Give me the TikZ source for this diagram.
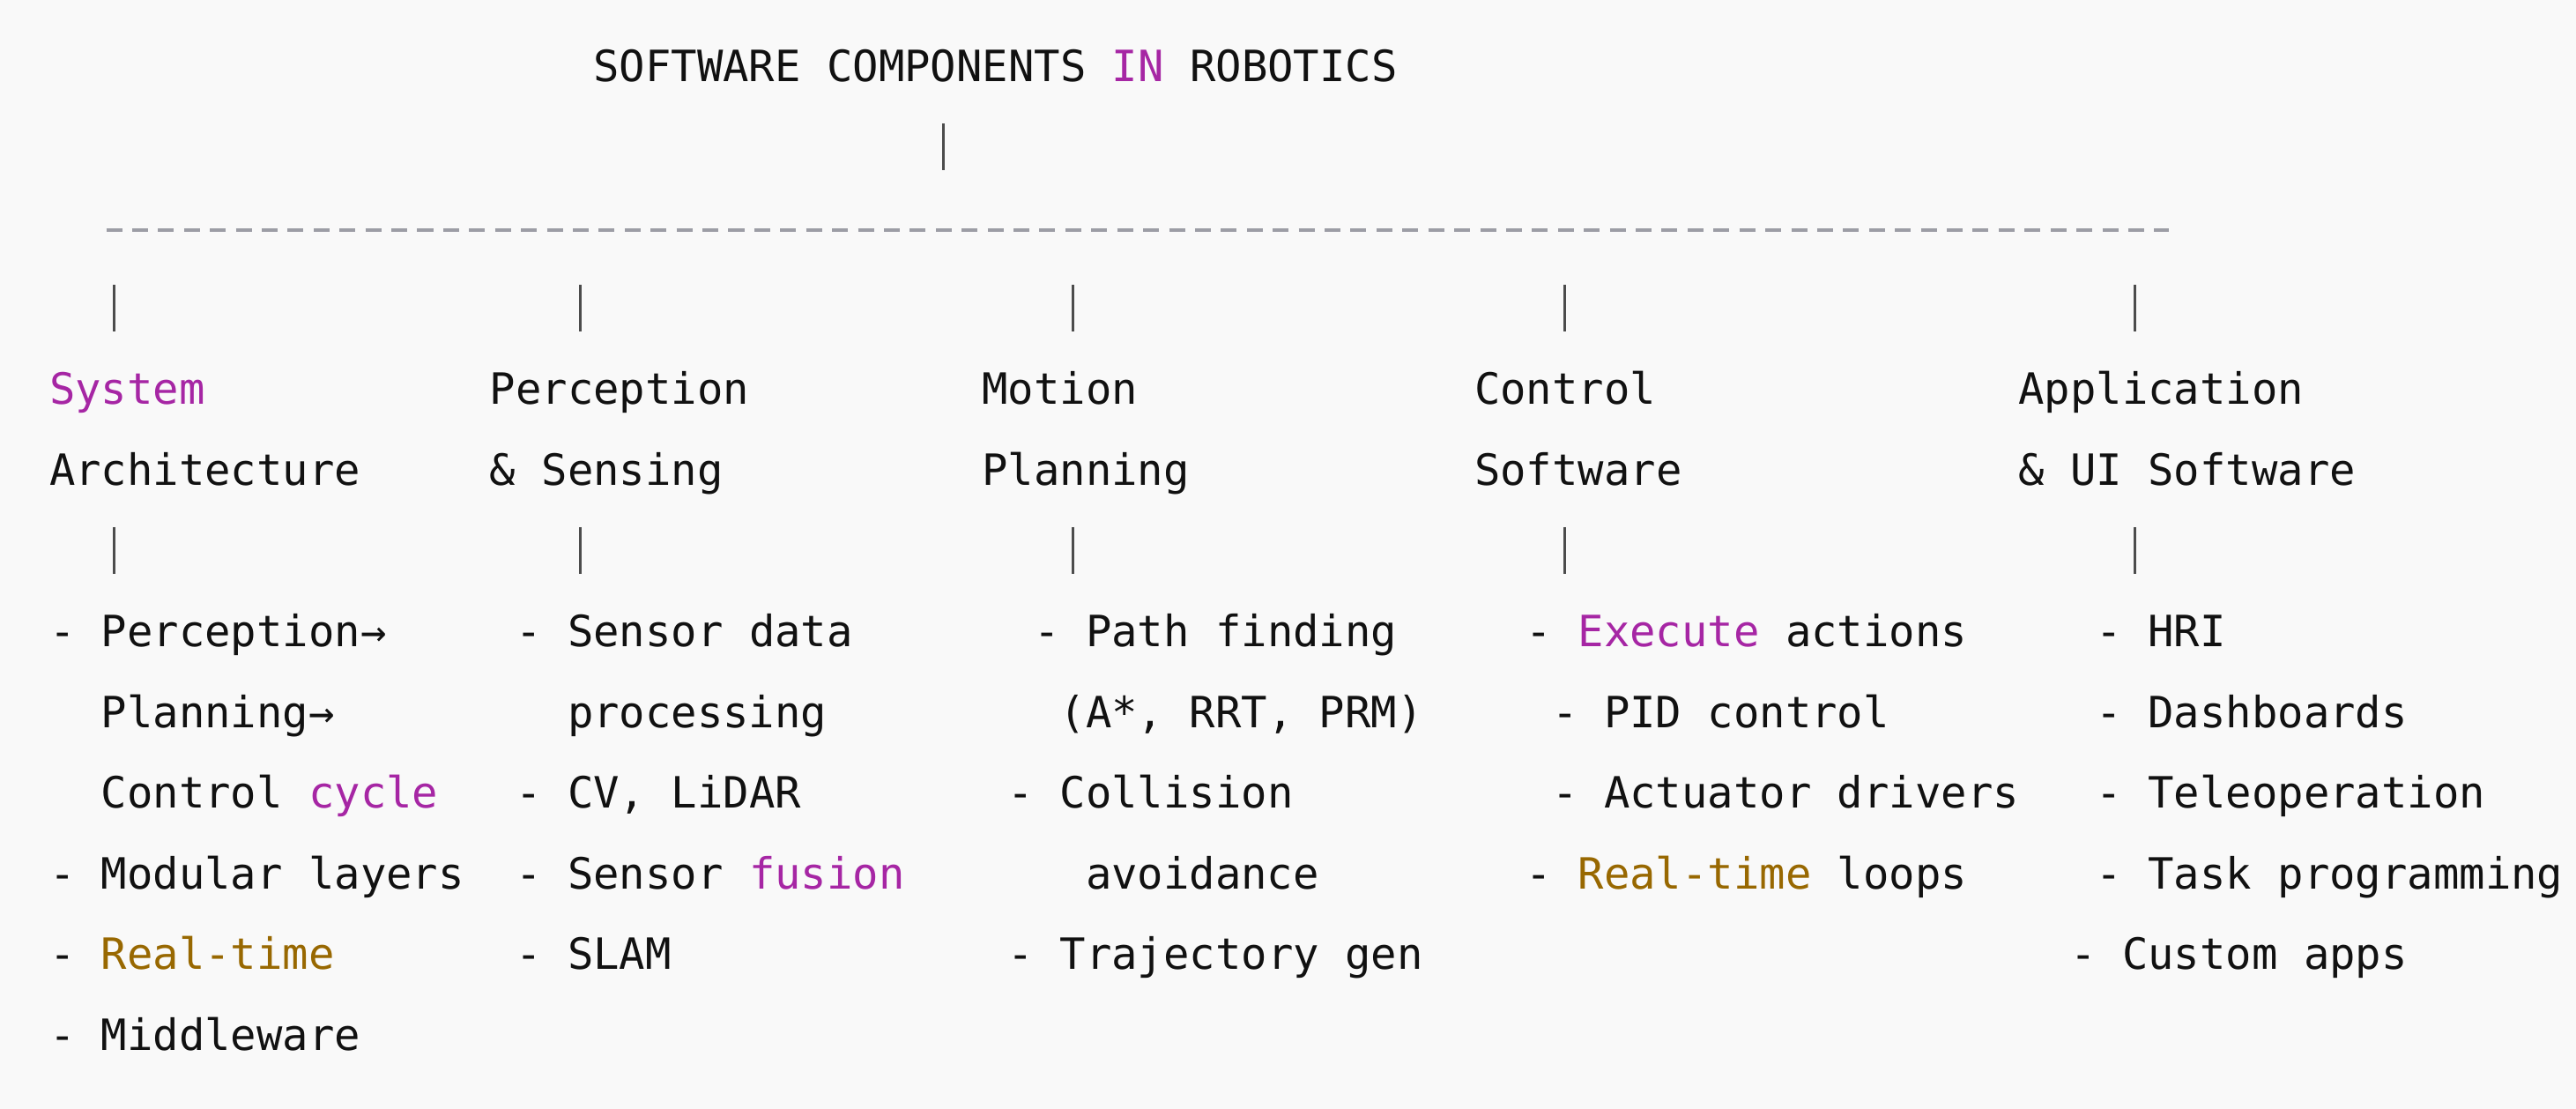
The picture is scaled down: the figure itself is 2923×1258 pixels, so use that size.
\documentclass[tikz,border=0pt]{standalone}
\usepackage{fontspec}
\setmonofont{DejaVu Sans Mono}
\usepackage{tikz}
\definecolor{paper}{HTML}{F9F9F9}
\definecolor{ink}{HTML}{111111}
\definecolor{kwpurple}{HTML}{A626A4}
\definecolor{litbrown}{HTML}{986801}
\definecolor{cmtgray}{HTML}{9C9DA5}
\newcommand{\kwd}[1]{\textcolor{kwpurple}{#1}}
\newcommand{\lit}[1]{\textcolor{litbrown}{#1}}
% character grid of the listing (one unit = one pixel)
\newcommand{\cx}[1]{56+29.4*(#1)}
\newcommand{\ry}[1]{93+91.5*(#1)}

\begin{document}
\begin{tikzpicture}[x=0.01cm,y=-0.01cm,
        font=\ttfamily\fontsize{13.9pt}{16pt}\selectfont\frenchspacing,
        txt/.style={anchor=base west,inner sep=0pt,outer sep=0pt,text=ink},
        bar/.style={draw=ink!75,line width=0.03cm},
        sepline/.style={draw=cmtgray,line width=0.04cm,dash pattern=on 0.18cm off 0.114cm}]
        \fill[paper] (0,0) rectangle (2923,1258);

        \node[txt] (title) at ({\cx{21}},{\ry{0}}) {SOFTWARE COMPONENTS \kwd{IN} ROBOTICS};
        \coordinate (topbar-t) at ({\cx{34}+14.7},{\ry{1}-44});
        \coordinate (topbar-b) at ({\cx{34}+14.7},{\ry{1}+9});
        \draw[bar] (topbar-t) -- (topbar-b);

        \coordinate (sepL) at (120.5,261);
        \coordinate (sepR) at (2461,261);
        \draw[sepline] (sepL) -- (sepR);

        \foreach \c in {2,20,39,58,80}{
            \foreach \r in {3,6}{
                \coordinate (bar\c-\r-t) at ({\cx{\c}+14.7},{\ry{\r}-44});
                \coordinate (bar\c-\r-b) at ({\cx{\c}+14.7},{\ry{\r}+9});
                \draw[bar] (bar\c-\r-t) -- (bar\c-\r-b);
            }
        }

        \begin{scope}
            \node[txt] (arch1) at ({\cx{0}},{\ry{4}}) {\kwd{System}};
            \node[txt] (arch2) at ({\cx{0}},{\ry{5}}) {Architecture};
            \node[txt] (arch-a) at ({\cx{0}},{\ry{7}}) {- Perception→};
            \node[txt] (arch-b) at ({\cx{2}},{\ry{8}}) {Planning→};
            \node[txt] (arch-c) at ({\cx{2}},{\ry{9}}) {Control \kwd{cycle}};
            \node[txt] (arch-d) at ({\cx{0}},{\ry{10}}) {- Modular layers};
            \node[txt] (arch-e) at ({\cx{0}},{\ry{11}}) {- \lit{Real-time}};
            \node[txt] (arch-f) at ({\cx{0}},{\ry{12}}) {- Middleware};
        \end{scope}

        \begin{scope}
            \node[txt] (perc1) at ({\cx{17}},{\ry{4}}) {Perception};
            \node[txt] (perc2) at ({\cx{17}},{\ry{5}}) {\& Sensing};
            \node[txt] (perc-a) at ({\cx{18}},{\ry{7}}) {- Sensor data};
            \node[txt] (perc-b) at ({\cx{20}},{\ry{8}}) {processing};
            \node[txt] (perc-c) at ({\cx{18}},{\ry{9}}) {- CV, LiDAR};
            \node[txt] (perc-d) at ({\cx{18}},{\ry{10}}) {- Sensor \kwd{fusion}};
            \node[txt] (perc-e) at ({\cx{18}},{\ry{11}}) {- SLAM};
        \end{scope}

        \begin{scope}
            \node[txt] (plan1) at ({\cx{36}},{\ry{4}}) {Motion};
            \node[txt] (plan2) at ({\cx{36}},{\ry{5}}) {Planning};
            \node[txt] (plan-a) at ({\cx{38}},{\ry{7}}) {- Path finding};
            \node[txt] (plan-b) at ({\cx{39}},{\ry{8}}) {(A*, RRT, PRM)};
            \node[txt] (plan-c) at ({\cx{37}},{\ry{9}}) {- Collision};
            \node[txt] (plan-d) at ({\cx{40}},{\ry{10}}) {avoidance};
            \node[txt] (plan-e) at ({\cx{37}},{\ry{11}}) {- Trajectory gen};
        \end{scope}

        \begin{scope}
            \node[txt] (ctrl1) at ({\cx{55}},{\ry{4}}) {Control};
            \node[txt] (ctrl2) at ({\cx{55}},{\ry{5}}) {Software};
            \node[txt] (ctrl-a) at ({\cx{57}},{\ry{7}}) {- \kwd{Execute} actions};
            \node[txt] (ctrl-b) at ({\cx{58}},{\ry{8}}) {- PID control};
            \node[txt] (ctrl-c) at ({\cx{58}},{\ry{9}}) {- Actuator drivers};
            \node[txt] (ctrl-d) at ({\cx{57}},{\ry{10}}) {- \lit{Real-time} loops};
        \end{scope}

        \begin{scope}
            \node[txt] (app1) at ({\cx{76}},{\ry{4}}) {Application};
            \node[txt] (app2) at ({\cx{76}},{\ry{5}}) {\& UI Software};
            \node[txt] (app-a) at ({\cx{79}},{\ry{7}}) {- HRI};
            \node[txt] (app-b) at ({\cx{79}},{\ry{8}}) {- Dashboards};
            \node[txt] (app-c) at ({\cx{79}},{\ry{9}}) {- Teleoperation};
            \node[txt] (app-d) at ({\cx{79}},{\ry{10}}) {- Task programming};
            \node[txt] (app-e) at ({\cx{78}},{\ry{11}}) {- Custom apps};
        \end{scope}
    \end{tikzpicture}
\end{document}
